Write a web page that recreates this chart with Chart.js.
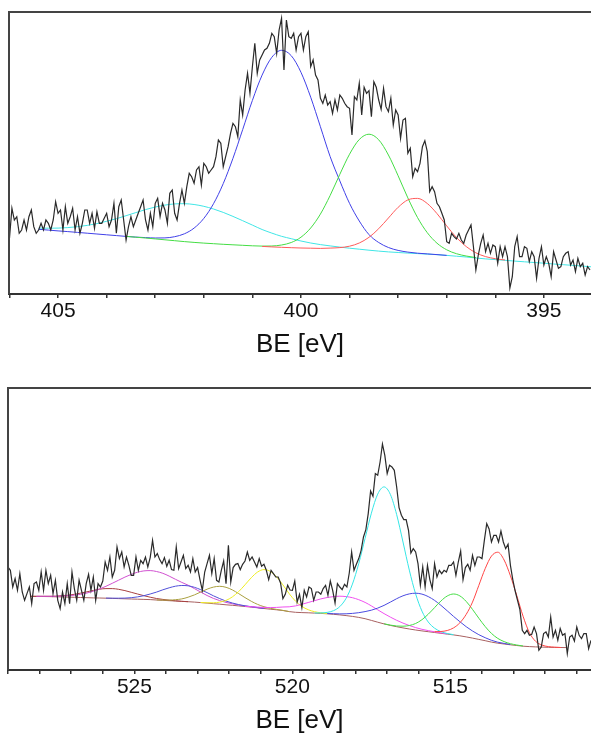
<!DOCTYPE html>
<html><head><meta charset="utf-8">
<script src="https://cdn.jsdelivr.net/npm/chart.js@4/dist/chart.umd.min.js"></script>
<style>
html,body{margin:0;padding:0;background:#fff;overflow:hidden;width:591px;height:735px}
.panel{position:absolute;left:0;width:591px}
#p1{top:0;height:367px}
#p2{top:367px;height:368px}
canvas{display:block}
</style></head><body>
<div class="panel" id="p1"><canvas id="c1" width="591" height="367"></canvas></div>
<div class="panel" id="p2"><canvas id="c2" width="591" height="368"></canvas></div>
<script>
// ================= Top panel: N 1s =================
const n1sStart = 406.0, n1sStep = 0.05;        // energy sampling of measured spectrum
const n1sCounts = [
55.7,85.7,74,77.3,60.7,64,74,64,77.3,84,
67.3,60.7,64,70.7,64,74,70.7,64,74,92.3,
80.7,84,64,87.3,70.7,77.3,85.7,64,77.3,60.7,
70.7,84,84,70.7,80.7,65.7,82.3,70.7,70.7,75.7,
80.7,67.3,74,90.7,60.7,87.3,94,74,54,67.3,
77.3,67.3,74,80.7,87.3,94,74,64,80.7,67.3,
90.7,95.7,77.3,90.7,84,70.7,100.7,104,80.7,74,
90.7,104,90.7,107.3,120.7,117.3,110.7,124,127.3,109,
130.7,127.3,120.7,124,127.3,137.3,154,150.7,127.3,137.3,
147.3,160.7,170.7,167.3,157.3,194,179,204,220.7,200.7,
227.3,250.7,220.7,234,239,244,245.7,250.7,260.7,257.3,
240.7,264,275.7,224,274,257.3,255.7,260.7,244,257.3,
260.7,244,257.3,262.3,227.3,234,219,214,195.7,190.7,
199,189,192.3,180.7,194,184,199,195.7,190.7,187.3,
185.7,159,197.3,194,210.7,179,206.7,200.7,203.3,177.3,
212.3,206.7,194,184.7,205.7,187.3,182.3,195.7,169,184,
179,155.7,174,175.7,140.7,145.7,117.3,125.7,122.3,130.7,
147.3,153.3,142.3,102.3,107.3,102.3,90.7,87.3,80.7,74,
52.3,50.7,60.7,57.3,55,60.7,54,50.7,59,64,
69,47.3,24,39,50.7,59,42.3,50.7,40.7,49,
47.3,30.7,47.3,37.3,47.3,37.3,6,17.3,47.3,57.3,
37.3,37.3,47.3,45.7,32.3,42.3,37.3,15.7,35.7,47.3,
29,37.3,30.7,17.3,42.3,34,25.7,27.3,37.3,40.7,
42.3,29,34,22.3,35.7,27.3,30.7,19,27.3,24
];
const n1sFitStart = 405.4, n1sFitStep = 0.2;   // energy sampling of fitted curves
const n1sBackground = [
64.7,63.9,63.1,62.4,61.6,60.8,60.0,59.2,58.4,57.6,
56.8,56.0,55.1,54.2,53.3,52.4,51.6,50.9,50.3,49.7,
49.2,48.7,48.2,47.6,47.1,46.7,46.3,46.0,45.8,45.6,
45.4,45.1,44.6,44.0,43.3,42.6,41.9,41.4,40.9,40.4,
39.9,39.3,38.6,37.8,37.0,36.0,35.1,34.4,33.7,32.9,
32.2,31.5,30.8,30.0,29.3,28.6,27.9,27.1
];
// fitted components: first energy of each curve, then heights above the background
const n1sBlueFrom = 405.4;
const n1sBluePeak = [
0,0,0,0,0,0,0,0,0,0,
0.1,0.4,0.9,1.9,4.0,7.8,14.3,24.7,40.0,60.7,
86.5,115.7,145.4,171.3,189.6,197.0,192.0,175.7,151.0,121.7,
92.1,68.0,46.0,29.0,16.1,8.9,4.6,2.2,1.0,0.4,
0.2,0.1,0
];
const n1sGreenFrom = 403.6;
const n1sGreenPeak = [
0,0,0,0,0,0,0,0,0,0,0,0,0,0,
0.3,0.9,2.3,5.2,10.8,20.2,34.3,53.1,74.6,95.2,110.5,116.5,111.6,97.1,76.8,55.2,
36.0,21.4,11.5,5.6,2.5,1.0,0.4
];
const n1sRedFrom = 400.8;
const n1sRedPeak = [
0,0,0,0,0,0,0,
0.5,1.3,3.2,7.0,13.4,22.7,34.1,45.3,53.2,55.2,50.6,41.1,29.5,18.7,10.5,5.2,2.3,0.9,0.3
];
const n1sCyanFrom = 405.4;
const n1sCyanPeak = [
1.2,1.9,2.8,4.0,5.7,7.8,10.4,13.5,16.9,20.7,
24.6,28.4,31.9,34.7,36.8,37.9,37.9,36.8,34.7,31.9,
28.4,24.6,20.7,16.9,13.8,11.0,9.0,7.0,5.2,3.8,
2.7,1.8,1.2,0.8,0.5,0.3,0.2,0.1,0,0,
0,0,0,0,0,0,0,0,0,0,
0,0,0,0,0,0,0,0
];
const n1sTickLabels = [405, 400, 395];

// ================= Bottom panel: V 2p =================
const v2pStart = 529.0, v2pStep = 0.075;
const v2pCounts = [
103.0,99.7,83.0,91.4,79.7,96.4,78.0,69.7,76.4,83.0,
66.4,86.4,88.0,79.7,98.0,79.7,99.7,86.4,94.7,76.4,
89.7,69.7,61.4,78.0,66.4,86.4,66.4,98.0,81.4,69.7,
89.7,79.7,69.7,86.4,95.7,79.7,93.0,69.7,86.4,83.0,
89.0,108.0,99.7,113.0,93.0,99.7,123.0,111.4,118.0,103.0,
113.0,104.7,94.7,94.7,113.0,99.7,109.7,106.4,113.0,103.0,
112.4,129.7,113.0,116.4,110.4,106.4,112.4,103.7,109.7,100.4,
99.7,123.0,101.4,108.0,114.7,101.4,104.7,98.0,111.4,98.0,
102.4,90.4,79.7,98.0,106.4,114.7,96.4,111.4,89.7,88.0,
99.7,109.0,86.4,124.7,88.0,102.4,105.7,106.4,100.4,105.7,
109.0,118.0,109.7,113.0,108.0,103.0,111.4,103.7,105.7,99.7,
90.4,99.7,96.4,93.0,93.0,87.0,71.4,75.7,84.7,80.0,
79.7,89.0,68.0,75.7,62.4,79.7,73.0,83.0,81.4,69.7,
78.0,78.0,75.7,81.4,84.7,74.7,89.0,79.7,67.0,86.4,
83.0,80.4,85.7,83.0,97.0,118.0,99.7,105.7,111.4,119.7,
133.0,140.4,156.4,179.0,173.7,196.4,194.7,208.0,226.0,214.7,
196.4,204.7,203.0,199.7,183.0,162.4,154.7,150.4,150.4,139.7,
117.0,121.4,118.0,106.4,84.7,103.0,83.0,104.7,90.4,81.4,
106.4,93.0,99.7,96.4,99.7,98.0,104.7,104.7,108.0,94.7,
108.0,119.0,90.4,102.4,105.7,99.7,114.7,104.7,113.0,113.0,
111.4,129.7,146.4,141.0,128.0,134.7,134.7,128.0,139.0,128.0,
121.4,125.7,104.7,90.4,79.0,69.7,60.4,39.7,36.4,39.7,
34.7,35.7,43.0,36.4,19.7,23.0,36.4,38.0,33.0,53.0,
33.0,39.7,29.7,41.4,34.7,36.4,16.4,33.0,34.7,29.0,
43.0,34.7,31.4,36.4,36.4,21.4,29.7
];
const v2pFitStart = 528.3, v2pFitStep = 0.2;
const v2pBackground = [
73.7,73.6,73.5,73.4,73.2,73.1,72.9,72.7,72.5,72.3,
72.1,72.0,71.8,71.6,71.4,71.2,71.0,70.8,70.6,70.4,
70.0,69.7,69.3,69.0,68.6,68.3,67.9,67.4,66.9,66.3,
65.8,65.2,64.7,64.1,63.5,62.9,62.2,61.5,60.8,60.2,
59.5,58.4,57.7,57.4,57.2,56.9,56.6,56.2,55.7,55.1,
54.4,53.6,52.6,51.3,49.6,47.8,46.1,44.6,43.3,42.1,
41.0,40.0,39.1,38.3,37.5,36.7,35.9,35.1,34.2,33.1,
31.9,30.6,29.3,27.9,26.8,26.0,25.2,24.5,23.8,23.4,
23.1,22.9,22.7,22.6,22.5,22.4
];
const v2pDarkRedFrom = 528.3;
const v2pDarkRedPeak = [0,0.1,0.2,0.3,0.6,1.2,1.9,3.0,4.4,5.9,7.5,8.8,9.6,9.8,9.3,8.2,6.7,5.2,3.7,2.4,1.5,0.9,0.5,0.2,0.1,0];
const v2pMagenta1From = 528.1;
const v2pMagenta1Peak = [0.1,0.2,0.3,0.5,0.8,1.4,2.1,3.2,4.7,6.7,9.1,11.9,15.1,18.4,21.7,24.6,27.0,28.5,29.0,28.5,27.0,24.6,21.7,19.0,16.5,13.5,10.5,7.6,5.3,3.6,2.4,1.5,0.9,0.5,0.3,0.2,0.1];
const v2pBlue1From = 525.9;
const v2pBlue1Peak = [0.1,0.2,0.4,0.7,1.3,2.3,3.7,5.6,7.9,10.5,12.9,14.8,15.9,15.9,14.8,12.9,10.5,7.9,5.6,3.7,2.3,1.3,0.7,0.4,0.2,0.1];
const v2pOliveFrom = 524.3;
const v2pOlivePeak = [0.1,0.2,0.6,1.3,2.5,4.5,7.2,10.6,13.9,16.6,17.9,17.5,15.4,12.3,8.9,5.8,3.4,1.8,0.9,0.4,0.1,0];
const v2pYellowFrom = 522.9;
const v2pYellowPeak = [0.1,0.3,0.9,2.1,4.4,8.4,14.3,21.7,29.4,35.8,38.9,37.8,32.9,25.6,17.9,11.1,6.2,3.1,1.4,0.6,0.2];
const v2pMagenta2From = 521.5;
const v2pMagenta2Peak = [0.2,0.4,0.7,1.1,1.6,2.4,3.5,4.8,6.4,8.3,10.3,12.4,14.5,16.3,17.7,18.7,19.0,18.7,17.7,16.3,14.5,12.4,10.3,8.3,6.4,4.8,3.5,2.4,1.6,1.1,0.7,0.4,0.2];
const v2pCyanFrom = 519.3;
const v2pCyanPeak = [0.1,0.5,1.4,3.6,8.3,17.3,32.3,53.8,80.3,107.2,128.1,137.0,131.0,112.1,85.9,58.9,36.1,19.8,9.7,4.3,1.7,0.6,0.2];
const v2pBlue2From = 518.9;
const v2pBlue2Peak = [0.3,0.6,1.0,1.8,3.0,4.7,7.1,10.2,14.1,18.5,23.3,28.0,32.1,35.1,36.8,36.8,35.1,32.1,28.0,23.3,18.5,14.1,10.2,7.1,4.7,3.0,1.8,1.0,0.6,0.3];
const v2pGreenFrom = 517.1;
const v2pGreenPeak = [0.1,0.3,0.7,1.7,3.5,6.5,11.2,17.5,24.9,32.3,38.1,40.9,39.9,35.5,28.7,21.2,14.2,8.7,4.8,2.4,1.1,0.5,0.2];
const v2pRedFrom = 515.5;
const v2pRedPeak = [0.8,1.8,3.6,7.0,13,22.5,36,54,72,86,91,84,69,50,30,14,5.5,2,0.7,0.2,0];
const v2pTickLabels = [525, 520, 515];

// ================= helpers =================
Chart.defaults.font.family = "'Liberation Sans', Arial, Helvetica, sans-serif";

function spectrumPoints(start, step, vals) {
  return vals.map((v, i) => ({ x: +(start - step * i).toFixed(3), y: v }));
}
function componentPoints(bgStart, step, bg, from, heights) {
  return heights.map((h, k) => {
    const x = +(from - step * k).toFixed(2);
    const idx = Math.round((bgStart - x) / step);
    return { x, y: bg[idx] + h };
  });
}
function lineDs(data, color, width, smooth) {
  return { data, borderColor: color, borderWidth: width, pointRadius: 0, fill: false,
    tension: 0, cubicInterpolationMode: smooth ? 'monotone' : 'default' };
}
const framePlugin = {
  id: 'frame',
  afterDraw(chart) {
    const { ctx, chartArea: a } = chart;
    ctx.save();
    ctx.strokeStyle = '#444';
    ctx.lineWidth = 2;
    ctx.beginPath();
    ctx.moveTo(a.left, a.bottom);
    ctx.lineTo(a.left, a.top);
    ctx.lineTo(chart.width, a.top);
    ctx.stroke();
    ctx.restore();
  }
};
function makeChart(canvas, datasets, min, max, labels, axisHeight, titlePadBottom, padTop, padLeft) {
  return new Chart(canvas, {
    type: 'line',
    data: { datasets },
    options: {
      responsive: false, animation: false, events: [],
      layout: { padding: { top: padTop, left: padLeft, right: 0, bottom: 0 } },
      plugins: { legend: { display: false }, tooltip: { enabled: false } },
      scales: {
        x: {
          type: 'linear', reverse: true, min, max,
          afterFit: s => { s.height = axisHeight; },
          grid: { drawOnChartArea: false, drawTicks: true, tickLength: 4, color: '#333', lineWidth: 1.5 },
          border: { display: true, color: '#333', width: 2 },
          ticks: {
            stepSize: 1, autoSkip: false, maxRotation: 0, minRotation: 0, includeBounds: false,
            padding: 1, color: '#111', font: { size: 21 },
            callback: v => { const r = Math.round(v); return (Math.abs(v - r) < 1e-6 && labels.includes(r)) ? String(r) : ''; }
          },
          title: { display: true, text: 'BE [eV]', color: '#111', font: { size: 26, lineHeight: 1 },
            padding: { top: 0, bottom: titlePadBottom } }
        },
        y: { type: 'linear', display: false, min: 0, max: 282 }
      }
    },
    plugins: [framePlugin]
  });
}

const specColor = '#2a2a2a', specWidth = 1.2;

// ================= top chart =================
const tbg = n1sBackground;
const tcomp = (from, peak) => componentPoints(n1sFitStart, n1sFitStep, tbg, from, peak);
const topSets = [
  lineDs(spectrumPoints(n1sStart, n1sStep, n1sCounts), specColor, specWidth, false),
  lineDs(tcomp(n1sRedFrom, n1sRedPeak), '#ff5a5a', 1, true),
  lineDs(tcomp(n1sGreenFrom, n1sGreenPeak), '#44dd44', 1, true),
  lineDs(tcomp(n1sBlueFrom, n1sBluePeak), '#4040e8', 1, true),
  lineDs(tcomp(n1sCyanFrom, n1sCyanPeak), '#40e6e6', 1, true)
];
makeChart(document.getElementById('c1'), topSets, 394.03, 406.01, n1sTickLabels, 73, 9, 12, 9);

// ================= bottom chart =================
const bbg = v2pBackground;
const bcomp = (from, peak) => componentPoints(v2pFitStart, v2pFitStep, bbg, from, peak);
const bottomSets = [
  lineDs(spectrumPoints(v2pStart, v2pStep, v2pCounts), specColor, specWidth, false),
  lineDs(bcomp(v2pRedFrom, v2pRedPeak), '#ff4545', 1, true),
  lineDs(bcomp(v2pGreenFrom, v2pGreenPeak), '#44dd44', 1, true),
  lineDs(bcomp(v2pBlue2From, v2pBlue2Peak), '#4a4ae0', 1, true),
  lineDs(bcomp(v2pCyanFrom, v2pCyanPeak), '#35e6e6', 1, true),
  lineDs(bcomp(v2pMagenta2From, v2pMagenta2Peak), '#f050f0', 1, true),
  lineDs(bcomp(v2pYellowFrom, v2pYellowPeak), '#eeee22', 1, true),
  lineDs(bcomp(v2pOliveFrom, v2pOlivePeak), '#aaa040', 1, true),
  lineDs(bcomp(v2pBlue1From, v2pBlue1Peak), '#5050d8', 1, true),
  lineDs(bcomp(v2pMagenta1From, v2pMagenta1Peak), '#d050d0', 1, true),
  lineDs(bcomp(v2pDarkRedFrom, v2pDarkRedPeak), '#a84040', 1, true),
  lineDs(v2pBackground.map((v, k) => ({ x: +(v2pFitStart - v2pFitStep * k).toFixed(2), y: v })), '#a86060', 1, true)
];
makeChart(document.getElementById('c2'), bottomSets, 510.55, 529.0, v2pTickLabels, 65, 1, 21, 8);
</script>
</body></html>
